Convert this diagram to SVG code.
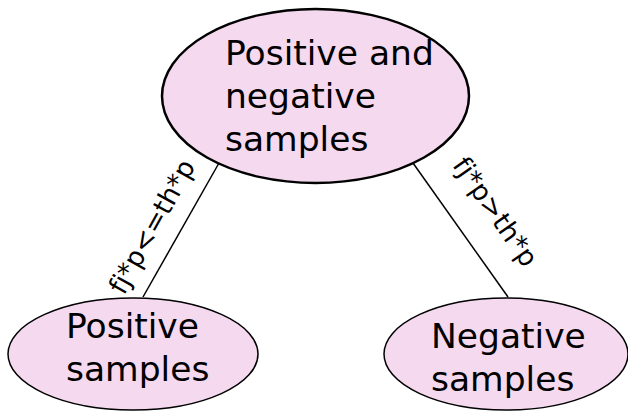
<svg xmlns="http://www.w3.org/2000/svg" width="628" height="411" viewBox="0 0 628 411">
  <style>
    .node { fill: #f5d9ef; stroke: #000; stroke-width: 1.5; }
    #root .node { stroke-width: 2.5; }
    .label { font-family: "DejaVu Sans", sans-serif; font-size: 34.5px; fill: #000; }
    .edge { stroke: #000; stroke-width: 1.5; fill: none; }
    .edge-label { font-family: "DejaVu Sans", sans-serif; font-size: 26.5px; fill: #000; text-anchor: middle; }
  </style>
  <rect width="628" height="411" fill="#fff"/>
  <g id="edges">
    <line class="edge" x1="219" y1="163" x2="143" y2="297"/>
    <line class="edge" x1="413" y1="163" x2="508" y2="297"/>
    <text class="edge-label" transform="translate(160,231) rotate(-61)">fj*p&lt;=th*p</text>
    <text class="edge-label" transform="translate(488,217) rotate(55)">fj*p&gt;th*p</text>
  </g>
  <g id="root">
    <ellipse class="node" cx="315.5" cy="96" rx="153.5" ry="87"/>
    <text class="label" x="225" y="65">Positive and</text>
    <text class="label" x="225" y="108">negative</text>
    <text class="label" x="225" y="151">samples</text>
  </g>
  <g id="positive">
    <ellipse class="node" cx="133" cy="354" rx="125" ry="56"/>
    <text class="label" x="66" y="338">Positive</text>
    <text class="label" x="66" y="381">samples</text>
  </g>
  <g id="negative">
    <ellipse class="node" cx="506" cy="354" rx="122" ry="56"/>
    <text class="label" x="431" y="348">Negative</text>
    <text class="label" x="431" y="391">samples</text>
  </g>
</svg>
